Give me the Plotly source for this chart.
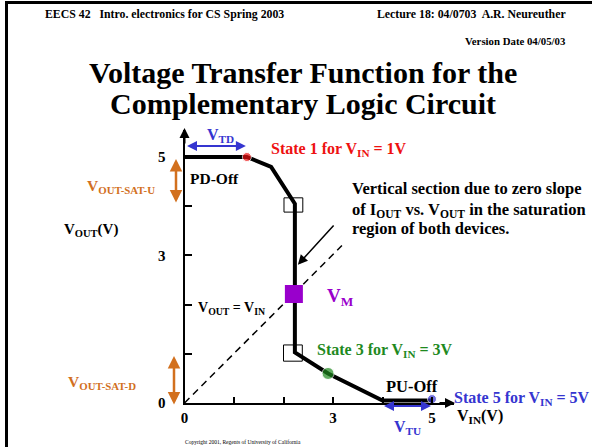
import plotly.graph_objects as go

W, H = 592, 447

# ---- data ----
vin_curve = [0, 1.26, 1.75, 2.23, 2.23, 2.9, 4.0, 5.0]
vout_curve = [5.0, 5.0, 4.8, 4.05, 1.03, 0.6, 0.05, 0.05]
state_vin = [1.26, 2.9, 5.0]
state_vout = [5.0, 0.6, 0.08]
state_colors = ["#ee1111", "#1f8a1f", "#3535d0"]
vm_vin = [2.21]
vm_vout = [2.215]
diag_vin = [0, 3.18]
diag_vout = [0, 3.2]
tick_vals = [0, 1, 2, 3, 4, 5]
tick_text = ["0", "", "", "3", "", "5"]

SERIF = "Liberation Serif"
BLUE = "#3535d0"
ORANGE = "#d2701e"
RED = "#ee1111"
GREEN = "#1f8a1f"
PURPLE = "#9900cc"

# axis placement (pixels)
X0_PX, X_PPU = 184.5, 49.5
Y0_PX, Y_PPU = 403.0, 49.2
XMAX, YMAX = 5.45, 5.55


def px(x):
    return x / W


def py(y):
    return 1 - y / H


fig = go.Figure()

fig.add_trace(go.Scatter(x=diag_vin, y=diag_vout, mode="lines",
                         line=dict(color="black", width=1.5, dash="7px,5px"),
                         hoverinfo="skip"))
fig.add_trace(go.Scatter(x=vin_curve, y=vout_curve, mode="lines",
                         line=dict(color="black", width=4),
                         hoverinfo="skip"))
fig.add_trace(go.Scatter(x=state_vin, y=state_vout, mode="markers",
                         marker=dict(color=state_colors, size=[9, 12, 9]),
                         cliponaxis=False, hoverinfo="skip"))
fig.add_trace(go.Scatter(x=vm_vin, y=vm_vout, mode="markers",
                         marker=dict(color=PURPLE, size=18, symbol="square"),
                         cliponaxis=False, hoverinfo="skip"))

shapes = []
# saturation-corner boxes
for (xa, xb, ya, yb) in [(2.01, 2.39, 3.88, 4.17), (2.0, 2.38, 0.85, 1.18)]:
    shapes.append(dict(type="rect", xref="x", yref="y", x0=xa, x1=xb, y0=ya, y1=yb,
                       line=dict(color="black", width=1)))
# slide frame
shapes.append(dict(type="line", xref="paper", yref="paper", x0=px(5), x1=1,
                   y0=py(2.5), y1=py(2.5), line=dict(color="black", width=3)))
shapes.append(dict(type="line", xref="paper", yref="paper", x0=px(6.5), x1=px(6.5),
                   y0=py(1), y1=0, line=dict(color="black", width=3)))

ann = []


def arrow(x, y, ax, ay, color, width=2, both=False, head=2, size=1):
    """Arrow in pixel positions (tip at x,y; tail at ax,ay)."""
    d = dict(x=px(x), y=py(y), ax=ax - x, ay=ay - y, xref="paper", yref="paper",
             axref="pixel", ayref="pixel",
             text="", showarrow=True, arrowcolor=color, arrowwidth=width,
             arrowhead=head, arrowsize=size)
    if both:
        d["arrowside"] = "end+start"
        d["startarrowhead"] = head
        d["startarrowsize"] = size
    ann.append(d)


def xp(v):
    return X0_PX + v * X_PPU


def yp(v):
    return Y0_PX - v * Y_PPU


# axis arrowheads
arrow(xp(0), 128, xp(0), 145, "black", 2)
arrow(455, yp(0), 438, yp(0), "black", 2)
# V_TD, V_TU
arrow(xp(1.24), 146, xp(0.02), 146, BLUE, 2, both=True)
arrow(xp(4.98), 406, xp(4.0), 406, BLUE, 2, both=True)
# saturation arrows
arrow(176, 159, 176, 204, ORANGE, 2.5, both=True)
arrow(174, 356, 174, 406, ORANGE, 2.5, both=True)
# pointer to vertical section
arrow(xp(2.29), yp(2.81), xp(3.04), yp(3.64), "black", 1.5, size=1.3)


def text(t, x, y, size=14, color="black", xanchor="left", bold=True, yanchor="middle"):
    ann.append(dict(text=("<b>%s</b>" % t) if bold else t, x=px(x), y=py(y),
                    xref="paper", yref="paper", showarrow=False,
                    xanchor=xanchor, yanchor=yanchor,
                    font=dict(family=SERIF, size=size, color=color)))


text("EECS 42   Intro. electronics for CS Spring 2003", 43, 14, 11.8)
text("Lecture 18: 04/0703  A.R. Neureuther", 568, 14, 11.8, xanchor="right")
text("Version Date 04/05/03", 568, 41, 10.8, xanchor="right")
text("Voltage Transfer Function for the", 303, 72, 30, xanchor="center")
text("Complementary Logic Circuit", 303, 104, 30, xanchor="center")

text("V<sub>TD</sub>", 220, 135, 16, BLUE, xanchor="center")
text("State 1 for V<sub>IN</sub> = 1V", 269, 150, 16, RED)
text("PD-Off", 188, 178, 15.5)
text("V<sub>OUT-SAT-U</sub>", 85, 186, 15.5, ORANGE)
text("V<sub>OUT</sub>(V)", 62, 230, 15)
text("Vertical section due to zero slope", 350, 188, 16.5)
text("of I<sub>OUT</sub> vs. V<sub>OUT</sub> in the saturation", 350, 210, 16.5)
text("region of both devices.", 350, 228, 16.5)
text("V<sub>OUT</sub> = V<sub>IN</sub>", 196, 308, 14)
text("V<sub>M</sub>", 325, 297, 19, PURPLE)
text("State 3 for V<sub>IN</sub> = 3V", 315, 350, 16, GREEN)
text("V<sub>OUT-SAT-D</sub>", 66, 382, 15.5, ORANGE)
text("PU-Off", 384, 386, 16.5)
text("State 5 for V<sub>IN</sub> = 5V", 452, 398, 16, BLUE)
text("V<sub>TU</sub>", 407, 427, 16, BLUE, xanchor="center")
text("V<sub>IN</sub>(V)", 455, 416, 16)
text("Copyright 2001, Regents of University of California", 183, 442, 5.5, bold=False)

x_end_px = X0_PX + XMAX * X_PPU
y_top_px = Y0_PX - YMAX * Y_PPU

fig.update_layout(
    width=W, height=H, margin=dict(l=0, r=0, t=0, b=0, autoexpand=False),
    paper_bgcolor="white", plot_bgcolor="rgba(0,0,0,0)",
    showlegend=False, shapes=shapes, annotations=ann,
    xaxis=dict(domain=[px(X0_PX), px(x_end_px)], range=[0, XMAX],
               showgrid=False, zeroline=False, showline=True, linecolor="black",
               linewidth=2, ticks="inside", ticklen=6, tickwidth=1.5,
               tickcolor="black", tickvals=tick_vals, ticktext=tick_text,
               tickfont=dict(family=SERIF, size=15, color="black", weight="bold"),
               automargin=False, fixedrange=True),
    yaxis=dict(domain=[py(Y0_PX), py(y_top_px)], range=[0, YMAX],
               showgrid=False, zeroline=False, showline=True, linecolor="black",
               linewidth=2, ticks="inside", ticklen=7, tickwidth=1.5,
               tickcolor="black", tickvals=tick_vals, ticktext=tick_text,
               tickfont=dict(family=SERIF, size=15, color="black", weight="bold"),
               ticklabelstandoff=14, automargin=False, fixedrange=True),
)

fig.write_html("out.html", config={"displayModeBar": False},
               post_script="document.body.style.margin='0';document.body.style.overflow='hidden';")
